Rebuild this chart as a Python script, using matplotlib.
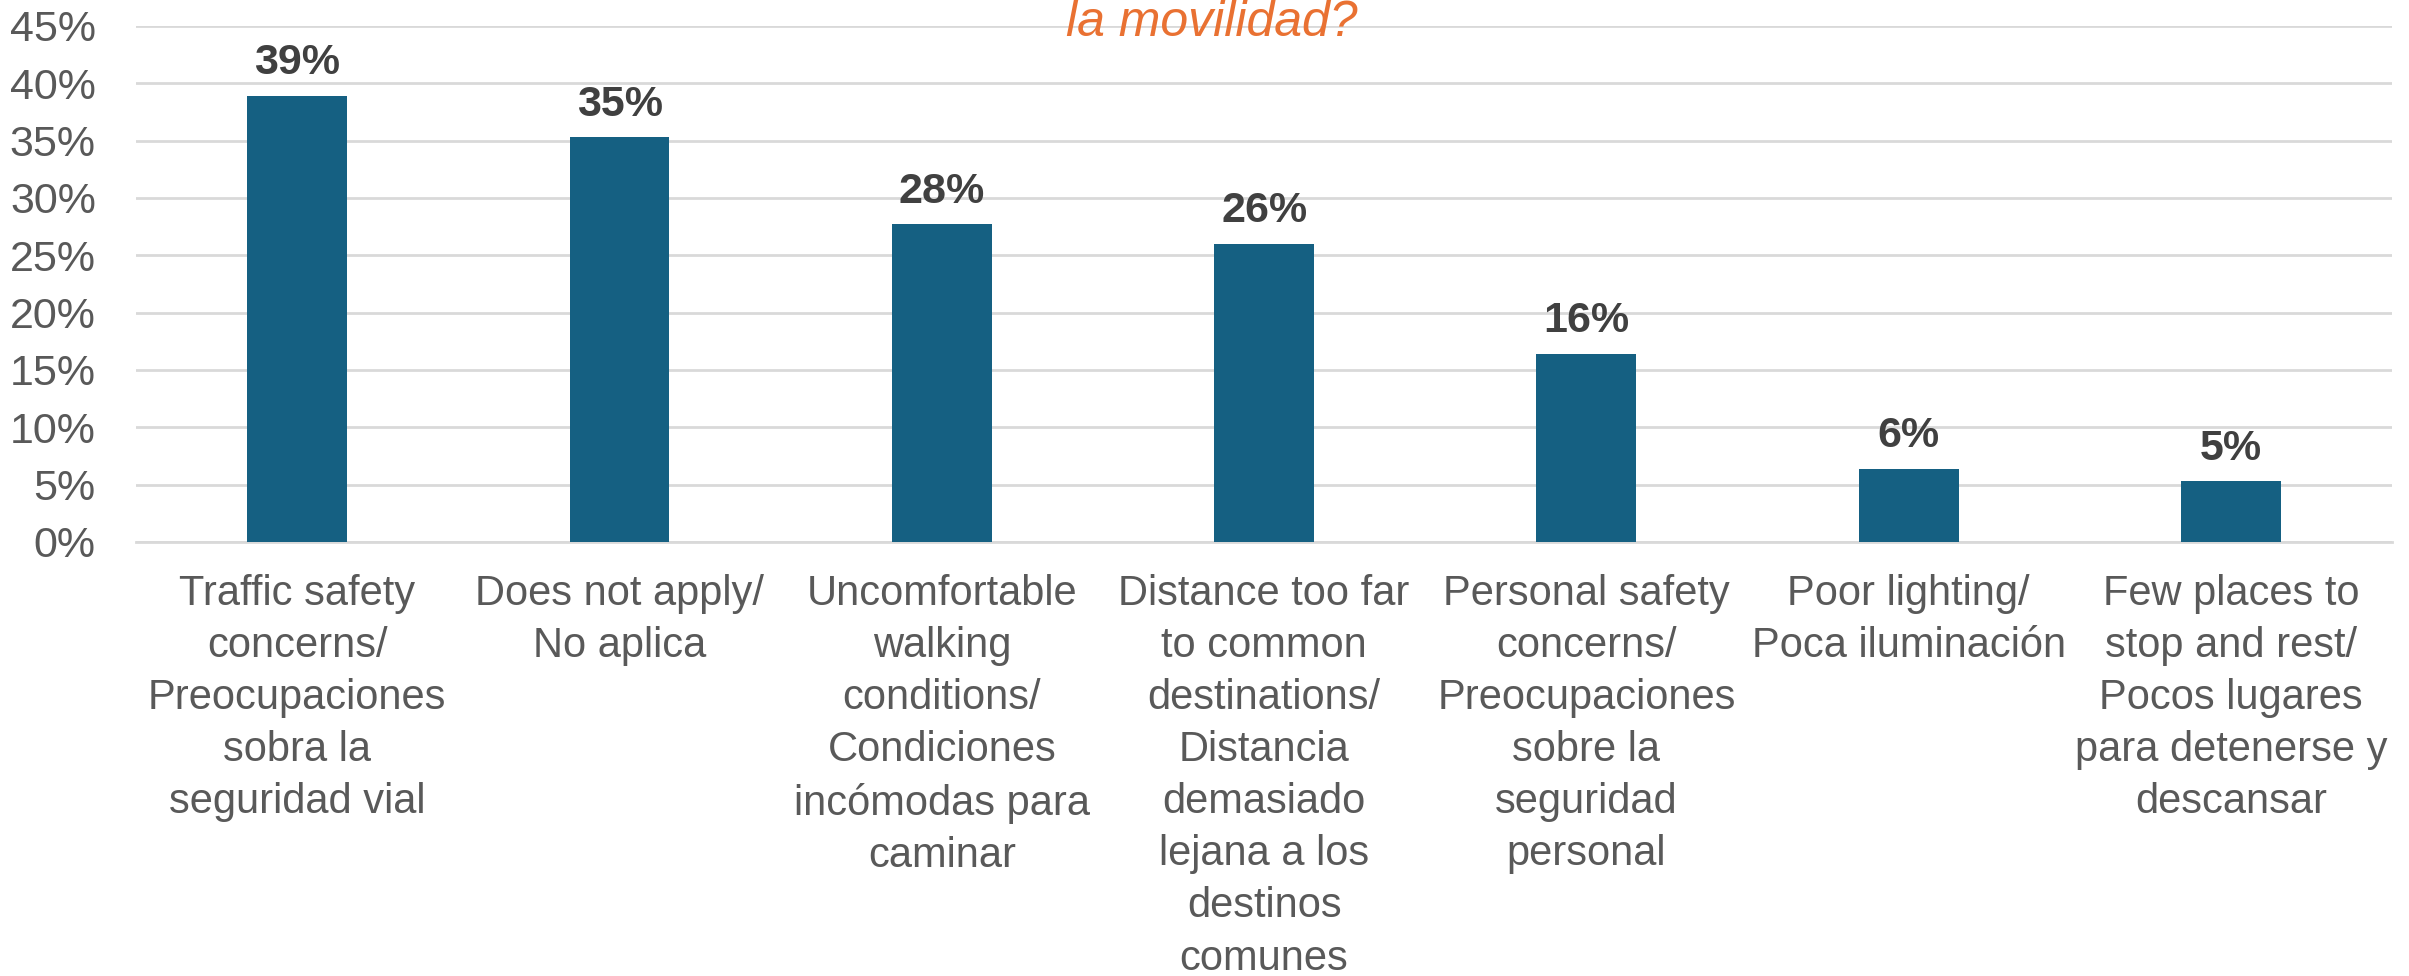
import matplotlib
matplotlib.use('Agg')
import matplotlib.pyplot as plt
from matplotlib import font_manager

# pick a narrow font if one is installed
names = {f.name for f in font_manager.fontManager.ttflist}
if 'Liberation Sans Narrow' in names:
    FONT = 'Liberation Sans Narrow'
else:
    FONT = 'Liberation Sans'
plt.rcParams['font.family'] = [FONT, 'DejaVu Sans']

categories = [
    'Traffic safety\nconcerns/\nPreocupaciones\nsobra la\nseguridad vial',
    'Does not apply/\nNo aplica',
    'Uncomfortable\nwalking\nconditions/\nCondiciones\nincómodas para\ncaminar',
    'Distance too far\nto common\ndestinations/\nDistancia\ndemasiado\nlejana a los\ndestinos\ncomunes',
    'Personal safety\nconcerns/\nPreocupaciones\nsobre la\nseguridad\npersonal',
    'Poor lighting/\nPoca iluminación',
    'Few places to\nstop and rest/\nPocos lugares\npara detenerse y\ndescansar',
]
values = [38.9, 35.3, 27.7, 26.0, 16.4, 6.4, 5.3]
yticks = [0, 5, 10, 15, 20, 25, 30, 35, 40, 45]
title_tail = 'la movilidad?'

bar_color = '#156082'
grid_color = '#D9D9D9'
text_color = '#595959'

fig = plt.figure(figsize=(24.09, 9.76), dpi=100)
ax = fig.add_axes([0.0565, 0.4447, 0.9365, 0.5287])

x = range(len(categories))
bars = ax.bar(x, values, width=0.31, color=bar_color, zorder=3)

for b, v in zip(bars, values):
    ax.annotate(f'{round(v)}%', (b.get_x() + b.get_width() / 2, v),
                xytext=(0, 9), textcoords='offset points',
                ha='center', va='bottom', fontsize=31, fontweight='bold',
                color='#404040')

ax.set_xlim(-0.5, len(categories) - 0.5)
ax.set_ylim(0, 45)
ax.set_yticks(yticks)
ax.set_yticklabels([f'{t}%' for t in yticks])
ax.set_xticks(list(x))
ax.set_xticklabels(categories, fontsize=30, color=text_color, linespacing=1.39)
ax.tick_params(axis='y', length=0, pad=29, labelsize=31, labelcolor=text_color)
ax.tick_params(axis='x', length=0, pad=23)

ax.yaxis.grid(True, color=grid_color, linewidth=2, zorder=0)
for s in ['top', 'right', 'left']:
    ax.spines[s].set_visible(False)
ax.spines['bottom'].set_color(grid_color)
ax.spines['bottom'].set_linewidth(2)

fig.text(0.503, 1 - 36 / 976, title_tail, ha='center', va='baseline',
         fontsize=36, style='italic', color='#E97132')

fig.savefig('out.png', dpi=100)
